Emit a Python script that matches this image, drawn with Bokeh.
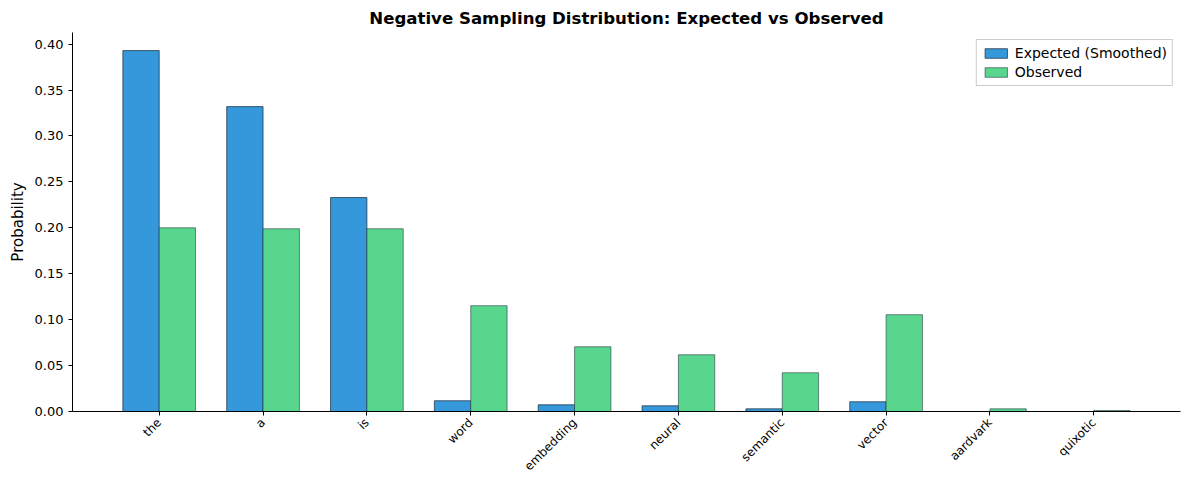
import math
from bokeh.plotting import figure
from bokeh.models import FixedTicker, ColumnDataSource, Legend, LegendItem, Title
from bokeh.embed import file_html
from bokeh.resources import INLINE

words = ["the", "a", "is", "word", "embedding", "neural", "semantic", "vector", "aardvark", "quixotic"]
expected = [0.393, 0.332, 0.233, 0.0117, 0.0073, 0.0062, 0.0029, 0.0106, 0.0, 0.0]
observed = [0.200, 0.199, 0.199, 0.1152, 0.0705, 0.0618, 0.0422, 0.1054, 0.0029, 0.0011]
ticks = [0.0, 0.05, 0.10, 0.15, 0.20, 0.25, 0.30, 0.35, 0.40]

w = 0.35
idx = list(range(len(words)))
src = ColumnDataSource(dict(
    x=idx,
    xe=[i - w / 2 for i in idx],
    xo=[i + w / 2 for i in idx],
    exp=expected,
    obs=observed,
))

FONT = "DejaVu Sans"
p = figure(width=1181, height=482, output_backend="svg", toolbar_location=None,
           x_range=(-0.835, 9.835), y_range=(0, 0.4127),
           min_border_left=72, min_border_right=1, min_border_top=32, min_border_bottom=71)
p.title = Title(text="Negative Sampling Distribution: Expected vs Observed", align="center",
                text_font=FONT, text_font_size="16.6px", text_font_style="bold", offset=0,
                text_color="black")
p.outline_line_color = None
p.xgrid.visible = False
p.ygrid.visible = False

r1 = p.vbar(x="xe", width=w, top="exp", bottom=0, source=src, fill_color="#3498db",
            line_color="#1f2d3a", line_width=0.8, line_alpha=0.9)
r2 = p.vbar(x="xo", width=w, top="obs", bottom=0, source=src, fill_color="#58d68d",
            line_color="#1f2d3a", line_width=0.8, line_alpha=0.7)

p.xaxis.ticker = FixedTicker(ticks=idx)
p.xaxis.major_label_overrides = {i: wd for i, wd in enumerate(words)}
p.xaxis.major_label_orientation = math.pi / 4
p.xaxis.major_label_text_font = FONT
p.xaxis.major_label_text_font_size = "12px"
p.xaxis.major_label_standoff = 5
p.xaxis.minor_tick_line_color = None
p.xaxis.major_tick_in = 0
p.xaxis.major_tick_out = 4

p.yaxis.ticker = FixedTicker(ticks=ticks)
p.yaxis.major_label_overrides = {t: f"{t:.2f}" for t in ticks}
p.yaxis.major_label_text_font = FONT
p.yaxis.major_label_text_font_size = "13px"
p.yaxis.minor_tick_line_color = None
p.yaxis.major_tick_in = 0
p.yaxis.major_tick_out = 4
p.yaxis.axis_label = "Probability"
p.yaxis.axis_label_text_font = FONT
p.yaxis.axis_label_text_font_size = "15px"
p.yaxis.axis_label_text_font_style = "normal"
p.yaxis.axis_label_text_color = "black"

for ax in (p.xaxis, p.yaxis):
    ax.axis_line_color = "black"
    ax.major_tick_line_color = "black"
    ax.major_label_text_color = "black"

legend = Legend(items=[LegendItem(label="Expected (Smoothed)", renderers=[r1]),
                       LegendItem(label="Observed", renderers=[r2])],
                location="top_right", label_text_font=FONT, label_text_font_size="14px",
                label_text_color="black",
                border_line_color="#cccccc", border_line_alpha=1.0, margin=7,
                padding=5, spacing=3, glyph_height=12, glyph_width=28,
                label_height=16, background_fill_alpha=0.8)
p.add_layout(legend)

open("out.html", "w").write(file_html(p, INLINE))
